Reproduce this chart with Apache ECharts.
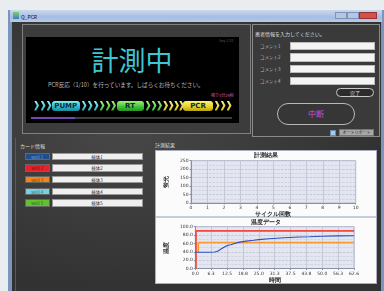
<!DOCTYPE html>
<html>
<head>
<meta charset="utf-8">
<script src="https://cdn.jsdelivr.net/npm/echarts@6/dist/echarts.min.js"></script>
<style>
  body { margin: 0; width: 384px; height: 291px; overflow: hidden; background: #e9edf0;
         font-family: "Noto Sans CJK JP", "Noto Sans", sans-serif; position: relative; }
  .abs { position: absolute; box-sizing: border-box; }
  .txt { position: absolute; white-space: nowrap; line-height: 1; }
  .chev { position: absolute; top: 100.5px; width: 5px; height: 10px;
          clip-path: polygon(0 0, 45% 0, 100% 50%, 45% 100%, 0 100%, 55% 50%); }
  .pill { position: absolute; top: 100.5px; height: 10px; border-radius: 3px;
          font: bold 7px "DejaVu Sans", sans-serif; color: #0d2a38; text-align: center; line-height: 10px; }
  .field { position: absolute; left: 290px; width: 85px; height: 8.3px; background: #f4f4f4; border: 1px solid #bbb; box-sizing: border-box; }
  .well { position: absolute; left: 25px; width: 24.5px; height: 7.5px; font-size: 4.5px; line-height: 7.5px;
          text-align: center; border: 1px solid #666; box-sizing: border-box; color: rgba(0,0,0,0.55); }
  .name { position: absolute; left: 51.5px; width: 91px; height: 7.5px; font-size: 4.5px; line-height: 7px;
          text-align: center; background: #efefef; border: 1px solid #999; box-sizing: border-box; color: #333; }
</style>
</head>
<body>
<!-- window frame -->
<div class="abs" style="left:8px;top:10px;width:376px;height:281px;background:#7b95bf;"></div>
<div class="abs" style="left:10px;top:10px;width:372px;height:12px;background:linear-gradient(#c9d8ee,#a6bde0 60%,#b7cbe8);"></div>
<div class="abs" style="left:13px;top:12px;width:6px;height:7px;background:linear-gradient(#7fcf60,#3d7fc8);"></div>
<div class="txt" style="left:21px;top:13.5px;font-size:5px;color:#111;">Q_PCR</div>
<div class="abs" style="left:335px;top:11.5px;width:12px;height:7px;background:#b4c6e2;border:1px solid #7d93b8;"></div>
<div class="abs" style="left:347px;top:11.5px;width:12px;height:7px;background:#b4c6e2;border:1px solid #7d93b8;"></div>
<div class="abs" style="left:359px;top:11.5px;width:18px;height:7px;background:#d4504a;border:1px solid #9a3030;"></div>
<!-- client area -->
<div class="abs" style="left:12px;top:22px;width:369px;height:269px;
  background: radial-gradient(ellipse at 30% 40%, #474747, #323232 70%), #383838;"></div>

<!-- top-left status panel -->
<div class="abs" style="left:22px;top:24px;width:229px;height:110px;border:1px solid #808080;background:#3c3c3c;"></div>
<div class="abs" style="left:26px;top:37px;width:213px;height:86px;background:#000;"></div>
<div class="txt" style="left:219px;top:39px;font-size:3.5px;color:#555;">Seq 1/10</div>
<div class="txt" style="left:0;width:264px;text-align:center;top:46px;font-size:27px;color:#3fc6d4;">計測中</div>
<div class="txt" style="left:48px;top:82.5px;font-size:5.6px;color:#bbb;">PCR反応（1/10）を行っています。しばらくお待ちください。</div>
<div class="txt" style="left:211px;top:93px;font-size:4px;color:#d85aa8;">残り5分29秒</div>
<div id="chevs"></div>
<div class="pill" style="left:51.5px;width:28.5px;background:linear-gradient(#7ff0f4,#27b4c4 60%,#1a8c9c);">PUMP</div>
<div class="pill" style="left:116.5px;width:27px;background:linear-gradient(#9cf07c,#3cc034 60%,#2a9024);">RT</div>
<div class="pill" style="left:183px;width:30px;background:linear-gradient(#fff27a,#e4d020 60%,#b4a010);">PCR</div>
<div class="abs" style="left:31px;top:116.5px;width:201px;height:2.5px;background:#3e3e3e;"></div>
<div class="abs" style="left:31px;top:116.5px;width:44px;height:2.5px;background:#7646b8;"></div>

<!-- top-right patient panel -->
<div class="abs" style="left:252px;top:24px;width:128px;height:113px;border:1px solid #8a8a8a;background:#3a3a3a;"></div>
<div class="txt" style="left:255px;top:31px;font-size:5px;color:#ddd;">患者情報を入力してください。</div>
<div class="txt" style="left:260px;top:43.5px;font-size:4.5px;color:#bbb;">コメント1</div>
<div class="txt" style="left:260px;top:55px;font-size:4.5px;color:#bbb;">コメント2</div>
<div class="txt" style="left:260px;top:67px;font-size:4.5px;color:#bbb;">コメント3</div>
<div class="txt" style="left:260px;top:78.5px;font-size:4.5px;color:#bbb;">コメント4</div>
<div class="field" style="top:41.7px;"></div>
<div class="field" style="top:53.3px;"></div>
<div class="field" style="top:65px;"></div>
<div class="field" style="top:76.7px;"></div>
<div class="abs" style="left:336px;top:88px;width:38px;height:9px;border:1px solid #c8c8c8;border-radius:5px;background:#2c2c2c;
  font-size:5px;line-height:7px;color:#ddd;text-align:center;">完了</div>
<div class="abs" style="left:277px;top:103px;width:78px;height:22px;border:1.5px solid #b8b8b8;border-radius:11px;background:#363636;
  font-size:8px;line-height:19px;color:#cf50c4;text-align:center;">中断</div>
<div class="abs" style="left:330px;top:130px;width:5.5px;height:5.5px;background:#a6c8ec;border:1px solid #6a8ab0;"></div>
<div class="abs" style="left:339px;top:129px;width:35px;height:7px;background:#a8a8a8;border:1px solid #777;
  font-size:4px;line-height:5px;color:#222;text-align:center;">オートリポート</div>

<!-- bottom-left card info -->
<div class="abs" style="left:15px;top:138px;width:137px;height:153px;border-left:1px solid #5a5a5a;"></div>
<div class="txt" style="left:20px;top:142.5px;font-size:5px;color:#ddd;">カード情報</div>
<div class="well" style="top:152.7px;background:#1e4f8e;color:#6f9fd4;">well 1</div>
<div class="well" style="top:164.2px;background:#e8222c;">well 2</div>
<div class="well" style="top:175.8px;background:#f08418;">well 3</div>
<div class="well" style="top:187.5px;background:#74d2e2;">well 4</div>
<div class="well" style="top:199.2px;background:#62c032;">well 5</div>
<div class="name" style="top:152.7px;">検体1</div>
<div class="name" style="top:164.2px;">検体2</div>
<div class="name" style="top:175.8px;">検体3</div>
<div class="name" style="top:187.5px;">検体4</div>
<div class="name" style="top:199.2px;">検体5</div>

<!-- bottom-right result panel -->
<div class="txt" style="left:155px;top:141.5px;font-size:5px;color:#ddd;">計測結果</div>
<div class="abs" style="left:155px;top:150px;width:222px;height:134px;background:#fbfbfb;border:1px solid #a8aec0;"></div>
<div class="abs" style="left:156px;top:216px;width:220px;height:1.5px;background:#c4cde0;"></div>
<div id="chart" class="abs" style="left:155px;top:150px;width:222px;height:134px;"></div>

<script>
// progress chevrons: x position and colour
var chevList = [
  [34, 'c'], [40.5, 'c'], [46.5, 'c'],
  [81.5, 'c'], [87.5, 'c'], [93.5, 'c'], [99.5, 'g'], [105.5, 'g'], [111, 'g'],
  [145.5, 'g'], [151.5, 'g'], [157, 'g'], [163, 'y'], [168.5, 'y'], [174, 'y'], [179, 'y'],
  [214.5, 'y'], [220.5, 'y'], [226.5, 'y']
];
var chevColor = {
  c: 'linear-gradient(#8ff4f8,#24b0c0)',
  g: 'linear-gradient(#a8f48a,#38b830)',
  y: 'linear-gradient(#fff48a,#d8c418)'
};
var html = '';
chevList.forEach(function (c) {
  html += '<div class="chev" style="left:' + c[0] + 'px;background:' + chevColor[c[1]] + ';"></div>';
});
document.getElementById('chevs').innerHTML = html;

// 計測結果 (empty)
var cycleTicks = ['0', '1', '2', '3', '4', '5', '6', '7', '8', '9', '10'];
var fluoTicks = ['0', '50', '100', '150', '200', '250'];
// 温度データ
var timeTicks = ['0.0', '6.3', '12.5', '18.8', '25.0', '31.3', '37.5', '43.8', '50.0', '56.3', '62.6'];
var tempTicks = ['0.0', '20.0', '40.0', '60.0', '80.0', '100.0'];
var sampleTemp = [
  [0, 39], [2, 39], [4, 39], [6, 39], [7.7, 39.5], [9, 42], [10, 46], [11, 49.5], [12, 53],
  [13, 55.5], [14, 57], [15.5, 60], [17, 62.5], [20, 65.5], [23, 67.5], [25, 69], [29, 71],
  [35, 73.5], [41, 75.5], [45, 76], [50, 77], [56, 78], [62.55, 78.5]
];
var highSet = [[0.3, 0], [0.3, 90], [62.55, 90]];
var lowSet = [[1.2, 39], [1.2, 62], [62.55, 62]];

var tickFont = { fontSize: 4.5, color: '#333', fontFamily: 'DejaVu Sans' };
var nameFont = { fontSize: 5.5, color: '#222', fontWeight: 'bold' };
var gridStyle = { show: true, backgroundColor: '#e3e6f0', borderColor: '#b4bbd0', borderWidth: 1 };

function xAxisOf(idx, max, step, ticks, name, gap) {
  return {
    type: 'value', gridIndex: idx, min: 0, max: max, interval: step,
    name: name, nameLocation: 'middle', nameGap: gap, nameTextStyle: nameFont,
    axisLine: { lineStyle: { color: '#8890a8' } },
    axisTick: { length: 1.5, lineStyle: { color: '#8890a8' } },
    axisLabel: Object.assign({ margin: 2.5, formatter: function (v) { return ticks[Math.round(v / step)]; } }, tickFont),
    splitLine: { lineStyle: { color: '#bcc2d4', width: 0.8 } }
  };
}
function yAxisOf(idx, max, step, ticks, name) {
  return {
    type: 'value', gridIndex: idx, min: 0, max: max, interval: step,
    name: name, nameLocation: 'middle', nameGap: 14, nameRotate: 90, nameTextStyle: nameFont,
    axisLine: { show: true, lineStyle: { color: '#8890a8' } },
    axisTick: { show: true, length: 1.5, lineStyle: { color: '#8890a8' } },
    axisLabel: Object.assign({ margin: 2.5, formatter: function (v) { return ticks[Math.round(v / step)]; } }, tickFont),
    splitLine: { lineStyle: { color: '#aeb3c4', type: 'dashed', width: 0.6 } },
    minorTick: { show: false, splitNumber: 2 },
    minorSplitLine: { show: true, lineStyle: { color: '#c6cad6', type: 'dashed', width: 0.6 } }
  };
}

var chart = echarts.init(document.getElementById('chart'));
chart.setOption({
  animation: false,
  title: [
    { text: '計測結果', left: 'center', top: 2.5, padding: 0, textStyle: { fontSize: 5.5, fontWeight: 'bold', color: '#222' } },
    { text: '温度データ', left: 'center', top: 69.5, padding: 0, textStyle: { fontSize: 5.5, fontWeight: 'bold', color: '#222' } }
  ],
  grid: [
    Object.assign({ left: 24.3, top: 10.7, width: 176.4, height: 42.3 }, gridStyle),
    Object.assign({ left: 24.7, top: 76.7, width: 174.3, height: 43.6 }, gridStyle)
  ],
  xAxis: [
    xAxisOf(0, 10, 1, cycleTicks, 'サイクル回数', 8),
    xAxisOf(1, 62.55, 6.255, timeTicks, '時間', 8.5)
  ],
  yAxis: [
    yAxisOf(0, 250, 50, fluoTicks, '蛍光'),
    yAxisOf(1, 100, 20, tempTicks, '温度')
  ],
  series: [
    { type: 'line', xAxisIndex: 0, yAxisIndex: 0, data: [] },
    { type: 'line', xAxisIndex: 1, yAxisIndex: 1, data: lowSet, showSymbol: false,
      lineStyle: { color: '#f59a34', width: 1.5 } },
    { type: 'line', xAxisIndex: 1, yAxisIndex: 1, data: highSet, showSymbol: false,
      lineStyle: { color: '#f04a3c', width: 1.6 } },
    { type: 'line', xAxisIndex: 1, yAxisIndex: 1, data: sampleTemp, showSymbol: false,
      lineStyle: { color: '#2f4fbf', width: 1.1 } }
  ]
});
</script>
</body>
</html>
